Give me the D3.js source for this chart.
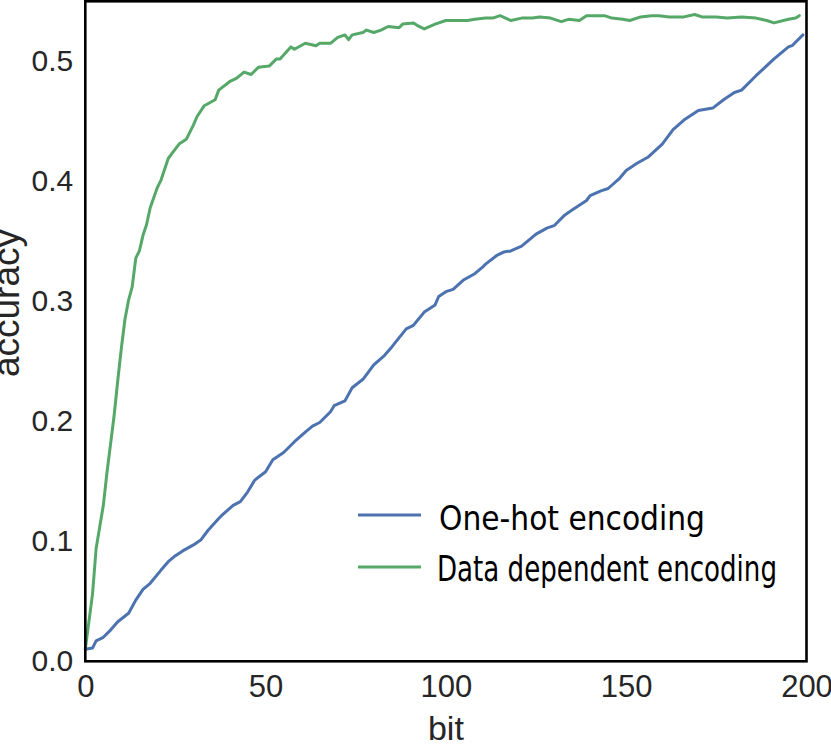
<!DOCTYPE html>
<html><head><meta charset="utf-8">
<script src="https://cdn.jsdelivr.net/npm/d3@7"></script>
<style>html,body{margin:0;padding:0;background:#fff;overflow:hidden}</style>
</head><body>
<svg id="chart" width="831" height="748"></svg>
<script>
const xTicks = [0, 50, 100, 150, 200];
const yTicks = [0.0, 0.1, 0.2, 0.3, 0.4, 0.5];
const seriesNames = ["One-hot encoding", "Data dependent encoding"];
const seriesColors = ["#4C72B0", "#55A868"];

const oneHotBits = [0,2,3,5,7,9,12,14,16,18,21,23,25,27,30,32,34,37,38,41,43,45,47,50,52,55,58,61,63,65,68,69,72,74,77,80,83,85,89,91,94,97,98,100,102,105,108,110,111,114,116,118,121,123,125,128,130,133,135,139,140,143,145,148,150,153,156,160,163,166,170,174,177,180,182,186,191,193,195,196,199];
const oneHotAcc = [0.010,0.011,0.017,0.020,0.026,0.033,0.040,0.051,0.060,0.065,0.076,0.083,0.088,0.092,0.097,0.101,0.109,0.119,0.122,0.130,0.133,0.141,0.151,0.158,0.168,0.174,0.183,0.191,0.196,0.199,0.208,0.213,0.217,0.228,0.235,0.247,0.255,0.262,0.277,0.280,0.291,0.297,0.304,0.308,0.310,0.318,0.323,0.328,0.331,0.338,0.341,0.342,0.346,0.351,0.356,0.361,0.363,0.372,0.376,0.384,0.388,0.392,0.394,0.402,0.409,0.415,0.420,0.431,0.443,0.451,0.459,0.461,0.468,0.474,0.476,0.488,0.502,0.507,0.512,0.513,0.522];

const dataDepBits = [0,2,3,5,6,7,8,9,10,11,12,13,14,15,16,17,18,20,21,23,24,26,28,30,31,33,36,37,40,42,44,46,48,51,53,54,57,58,61,64,65,68,70,72,73,74,77,78,80,82,84,87,88,91,92,94,97,100,102,106,108,111,113,115,118,121,124,126,129,132,134,137,139,142,144,146,149,151,154,157,159,162,166,169,171,175,178,182,186,189,191,195,197,198];
const dataDepAcc = [0.010,0.056,0.094,0.130,0.157,0.181,0.205,0.234,0.261,0.285,0.301,0.312,0.336,0.342,0.355,0.364,0.378,0.395,0.401,0.419,0.423,0.431,0.435,0.447,0.454,0.463,0.468,0.476,0.483,0.486,0.491,0.489,0.495,0.496,0.502,0.502,0.512,0.510,0.515,0.513,0.515,0.515,0.520,0.522,0.518,0.522,0.524,0.526,0.524,0.526,0.529,0.528,0.531,0.532,0.530,0.527,0.531,0.534,0.534,0.534,0.535,0.536,0.536,0.538,0.534,0.536,0.536,0.537,0.536,0.533,0.535,0.534,0.538,0.538,0.538,0.536,0.535,0.534,0.537,0.538,0.538,0.537,0.537,0.539,0.537,0.537,0.536,0.537,0.536,0.534,0.532,0.535,0.536,0.538];

const svg = d3.select("#chart");
const mL = 85.3, mR = 806.5, mT = 1.3, mB = 661.3;
const x = d3.scaleLinear().domain([0, 200]).range([mL, mR]);
const y = d3.scaleLinear().domain([0, 0.55]).range([mB, mT]);

const series = [
  {name: seriesNames[0], color: seriesColors[0], pts: oneHotBits.map((b, i) => [b, oneHotAcc[i]])},
  {name: seriesNames[1], color: seriesColors[1], pts: dataDepBits.map((b, i) => [b, dataDepAcc[i]])}
];

const line = d3.line().x(d => x(d[0])).y(d => y(d[1]));
svg.append("g").selectAll("path").data(series).join("path")
  .attr("d", d => line(d.pts)).attr("fill", "none")
  .attr("stroke", d => d.color).attr("stroke-width", 3)
  .attr("stroke-linejoin", "round").attr("stroke-linecap", "round");

svg.append("rect").attr("x", mL).attr("y", mT)
  .attr("width", mR - mL).attr("height", mB - mT)
  .attr("fill", "none").attr("stroke", "#000").attr("stroke-width", 2.6);

const tickFont = "'Liberation Sans', Arial, sans-serif";
const yAxis = d3.axisLeft(y).tickValues(yTicks).tickFormat(d3.format(".1f")).tickSize(0).tickPadding(12);
const gy = svg.append("g").attr("transform", `translate(${mL},0)`).call(yAxis);
gy.select(".domain").remove();
gy.selectAll("text").attr("font-family", tickFont).attr("font-size", 30).attr("fill", "#262626");

const xAxis = d3.axisBottom(x).tickValues(xTicks).tickFormat(d3.format("d")).tickSize(0).tickPadding(14);
const gx = svg.append("g").attr("transform", `translate(0,${mB})`).call(xAxis);
gx.select(".domain").remove();
gx.selectAll("text").attr("font-family", tickFont).attr("font-size", 31).attr("fill", "#262626");

svg.append("text").attr("x", (mL + mR) / 2).attr("y", 740)
  .attr("text-anchor", "middle").attr("font-family", tickFont).attr("font-size", 34)
  .attr("fill", "#262626").text("bit");
svg.append("text").attr("transform", "translate(19,303) rotate(-90)")
  .attr("text-anchor", "middle").attr("font-family", tickFont).attr("font-size", 37)
  .attr("fill", "#262626").text("accuracy");

const legY = [515, 567];
const legBase = [530, 581];
const legFont = [33, 35];
const legLen = [266, 340];
const legX = [439, 437];
const lg = svg.append("g");
series.forEach((s, i) => {
  lg.append("line").attr("x1", 358).attr("x2", 421).attr("y1", legY[i]).attr("y2", legY[i])
    .attr("stroke", s.color).attr("stroke-width", 3);
  lg.append("text").attr("x", legX[i]).attr("y", legBase[i])
    .attr("font-family", "'DejaVu Sans Condensed', 'DejaVu Sans', sans-serif")
    .attr("font-size", legFont[i]).attr("fill", "#000")
    .attr("textLength", legLen[i]).attr("lengthAdjust", "spacingAndGlyphs")
    .text(s.name);
});
</script>
</body></html>
